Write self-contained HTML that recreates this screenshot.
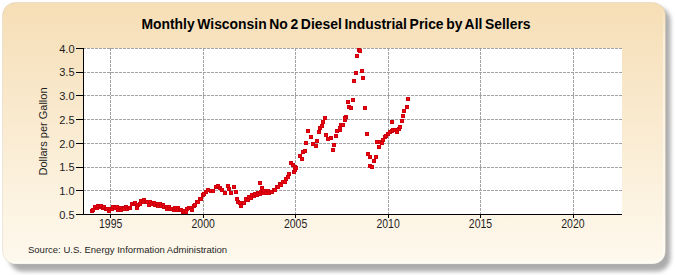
<!DOCTYPE html><html><head><meta charset="utf-8"><style>
html,body{margin:0;padding:0;background:#fff;width:675px;height:275px;overflow:hidden}
svg{display:block}
text{font-family:"Liberation Sans",sans-serif}
</style></head><body>
<svg width="675" height="275" viewBox="0 0 675 275">
<defs>
<linearGradient id="bg" x1="0" y1="0" x2="0" y2="1">
<stop offset="0" stop-color="#F6DEB6"/>
<stop offset="1" stop-color="#FEF9EE"/>
</linearGradient>
<linearGradient id="hl" gradientUnits="userSpaceOnUse" x1="0" y1="8" x2="0" y2="40"><stop offset="0" stop-color="#fff" stop-opacity="0"/><stop offset="1" stop-color="#fff" stop-opacity="0.5"/></linearGradient>
<filter id="sh" x="-5%" y="-5%" width="115%" height="120%">
<feGaussianBlur stdDeviation="2"/>
</filter>
<filter id="pb" x="-2%" y="-2%" width="104%" height="104%">
<feGaussianBlur stdDeviation="0.55"/>
</filter>
</defs>
<rect x="9" y="7" width="661.5" height="264.5" rx="14" ry="14" fill="#acacac" filter="url(#sh)"/>
<g filter="url(#pb)">
<rect x="2.5" y="2.5" width="663" height="261.5" rx="13" ry="13" fill="url(#bg)" stroke="#c8bca8" stroke-opacity="0.3" stroke-width="1"/>
<path d="M663.9 9 L663.9 253 A10.5 10.5 0 0 1 653.4 262.5 L12 262.5" fill="none" stroke="url(#hl)" stroke-width="2"/>
</g>
<rect x="84" y="48" width="538" height="166" fill="#fff"/>
<g stroke="#a2a2a2" stroke-width="1" stroke-dasharray="3 1"><line x1="84" y1="48.5" x2="622" y2="48.5" stroke-dashoffset="1"/><line x1="84" y1="72.5" x2="622" y2="72.5" stroke-dashoffset="1"/><line x1="84" y1="95.5" x2="622" y2="95.5" stroke-dashoffset="1"/><line x1="84" y1="119.5" x2="622" y2="119.5" stroke-dashoffset="1"/><line x1="84" y1="143.5" x2="622" y2="143.5" stroke-dashoffset="1"/><line x1="84" y1="167.5" x2="622" y2="167.5" stroke-dashoffset="1"/><line x1="84" y1="190.5" x2="622" y2="190.5" stroke-dashoffset="1"/><line x1="110.5" y1="48" x2="110.5" y2="214"/><line x1="203.5" y1="48" x2="203.5" y2="214"/><line x1="295.5" y1="48" x2="295.5" y2="214"/><line x1="388.5" y1="48" x2="388.5" y2="214"/><line x1="480.5" y1="48" x2="480.5" y2="214"/><line x1="573.5" y1="48" x2="573.5" y2="214"/></g>
<g stroke="#000" stroke-width="1"><line x1="83.5" y1="48" x2="83.5" y2="215"/><line x1="83" y1="214.5" x2="622" y2="214.5"/><line x1="76" y1="48.5" x2="83" y2="48.5"/><line x1="76" y1="72.5" x2="83" y2="72.5"/><line x1="76" y1="95.5" x2="83" y2="95.5"/><line x1="76" y1="119.5" x2="83" y2="119.5"/><line x1="76" y1="143.5" x2="83" y2="143.5"/><line x1="76" y1="167.5" x2="83" y2="167.5"/><line x1="76" y1="190.5" x2="83" y2="190.5"/><line x1="76" y1="214.5" x2="83" y2="214.5"/><line x1="110.5" y1="214" x2="110.5" y2="218"/><line x1="203.5" y1="214" x2="203.5" y2="218"/><line x1="295.5" y1="214" x2="295.5" y2="218"/><line x1="388.5" y1="214" x2="388.5" y2="218"/><line x1="480.5" y1="214" x2="480.5" y2="218"/><line x1="573.5" y1="214" x2="573.5" y2="218"/></g>
<g font-size="11" fill="#1e1e1e"><text transform="translate(74.6,52.6) scale(0.94,1)" font-size="11.8" text-anchor="end">4.0</text><text transform="translate(74.6,76.3) scale(0.94,1)" font-size="11.8" text-anchor="end">3.5</text><text transform="translate(74.6,100.0) scale(0.94,1)" font-size="11.8" text-anchor="end">3.0</text><text transform="translate(74.6,123.7) scale(0.94,1)" font-size="11.8" text-anchor="end">2.5</text><text transform="translate(74.6,147.5) scale(0.94,1)" font-size="11.8" text-anchor="end">2.0</text><text transform="translate(74.6,171.2) scale(0.94,1)" font-size="11.8" text-anchor="end">1.5</text><text transform="translate(74.6,194.9) scale(0.94,1)" font-size="11.8" text-anchor="end">1.0</text><text transform="translate(74.6,218.6) scale(0.94,1)" font-size="11.8" text-anchor="end">0.5</text><text transform="translate(110.7,227.6) scale(0.86,1)" font-size="12.2" text-anchor="middle">1995</text><text transform="translate(203.2,227.6) scale(0.86,1)" font-size="12.2" text-anchor="middle">2000</text><text transform="translate(295.6,227.6) scale(0.86,1)" font-size="12.2" text-anchor="middle">2005</text><text transform="translate(388.1,227.6) scale(0.86,1)" font-size="12.2" text-anchor="middle">2010</text><text transform="translate(480.5,227.6) scale(0.86,1)" font-size="12.2" text-anchor="middle">2015</text><text transform="translate(572.9,227.6) scale(0.86,1)" font-size="12.2" text-anchor="middle">2020</text></g>
<text x="336" y="29" text-anchor="middle" font-size="13.9" word-spacing="-1.2" font-weight="bold" fill="#000">Monthly Wisconsin No 2 Diesel Industrial Price by All Sellers</text>
<text transform="translate(47.2,131.5) rotate(-90)" text-anchor="middle" font-size="11" fill="#1e1e1e">Dollars per Gallon</text>
<text x="28" y="252.6" font-size="9.5" fill="#1e1e1e">Source: U.S. Energy Information Administration</text>
<g fill="#f4000f" stroke="#cc000c" stroke-width="1"><rect x="90.5" y="209.5" width="3" height="3"/><rect x="91.5" y="208.5" width="3" height="3"/><rect x="93.5" y="205.5" width="3" height="3"/><rect x="95.5" y="206.5" width="3" height="3"/><rect x="96.5" y="204.5" width="3" height="3"/><rect x="98.5" y="205.5" width="3" height="3"/><rect x="99.5" y="204.5" width="3" height="3"/><rect x="101.5" y="206.5" width="3" height="3"/><rect x="102.5" y="205.5" width="3" height="3"/><rect x="104.5" y="207.5" width="3" height="3"/><rect x="105.5" y="207.5" width="3" height="3"/><rect x="107.5" y="209.5" width="3" height="3"/><rect x="108.5" y="207.5" width="3" height="3"/><rect x="110.5" y="207.5" width="3" height="3"/><rect x="111.5" y="205.5" width="3" height="3"/><rect x="113.5" y="206.5" width="3" height="3"/><rect x="115.5" y="205.5" width="3" height="3"/><rect x="116.5" y="208.5" width="3" height="3"/><rect x="118.5" y="206.5" width="3" height="3"/><rect x="119.5" y="208.5" width="3" height="3"/><rect x="121.5" y="206.5" width="3" height="3"/><rect x="122.5" y="207.5" width="3" height="3"/><rect x="124.5" y="205.5" width="3" height="3"/><rect x="125.5" y="207.5" width="3" height="3"/><rect x="127.5" y="206.5" width="3" height="3"/><rect x="128.5" y="206.5" width="3" height="3"/><rect x="130.5" y="202.5" width="3" height="3"/><rect x="132.5" y="202.5" width="3" height="3"/><rect x="133.5" y="201.5" width="3" height="3"/><rect x="135.5" y="206.5" width="3" height="3"/><rect x="136.5" y="203.5" width="3" height="3"/><rect x="138.5" y="202.5" width="3" height="3"/><rect x="139.5" y="199.5" width="3" height="3"/><rect x="141.5" y="200.5" width="3" height="3"/><rect x="142.5" y="198.5" width="3" height="3"/><rect x="144.5" y="200.5" width="3" height="3"/><rect x="145.5" y="200.5" width="3" height="3"/><rect x="147.5" y="203.5" width="3" height="3"/><rect x="148.5" y="200.5" width="3" height="3"/><rect x="150.5" y="202.5" width="3" height="3"/><rect x="152.5" y="201.5" width="3" height="3"/><rect x="153.5" y="203.5" width="3" height="3"/><rect x="155.5" y="202.5" width="3" height="3"/><rect x="156.5" y="204.5" width="3" height="3"/><rect x="158.5" y="202.5" width="3" height="3"/><rect x="159.5" y="204.5" width="3" height="3"/><rect x="161.5" y="203.5" width="3" height="3"/><rect x="162.5" y="205.5" width="3" height="3"/><rect x="164.5" y="205.5" width="3" height="3"/><rect x="165.5" y="207.5" width="3" height="3"/><rect x="167.5" y="205.5" width="3" height="3"/><rect x="168.5" y="207.5" width="3" height="3"/><rect x="170.5" y="207.5" width="3" height="3"/><rect x="172.5" y="208.5" width="3" height="3"/><rect x="173.5" y="206.5" width="3" height="3"/><rect x="175.5" y="208.5" width="3" height="3"/><rect x="176.5" y="206.5" width="3" height="3"/><rect x="178.5" y="208.5" width="3" height="3"/><rect x="179.5" y="208.5" width="3" height="3"/><rect x="181.5" y="210.5" width="3" height="3"/><rect x="182.5" y="209.5" width="3" height="3"/><rect x="184.5" y="210.5" width="3" height="3"/><rect x="185.5" y="207.5" width="3" height="3"/><rect x="187.5" y="206.5" width="3" height="3"/><rect x="189.5" y="206.5" width="3" height="3"/><rect x="190.5" y="208.5" width="3" height="3"/><rect x="192.5" y="204.5" width="3" height="3"/><rect x="193.5" y="203.5" width="3" height="3"/><rect x="195.5" y="200.5" width="3" height="3"/><rect x="196.5" y="200.5" width="3" height="3"/><rect x="198.5" y="197.5" width="3" height="3"/><rect x="199.5" y="197.5" width="3" height="3"/><rect x="201.5" y="193.5" width="3" height="3"/><rect x="202.5" y="192.5" width="3" height="3"/><rect x="235.5" y="197.5" width="3" height="3"/><rect x="236.5" y="200.5" width="3" height="3"/><rect x="238.5" y="201.5" width="3" height="3"/><rect x="239.5" y="204.5" width="3" height="3"/><rect x="241.5" y="201.5" width="3" height="3"/><rect x="242.5" y="201.5" width="3" height="3"/><rect x="244.5" y="197.5" width="3" height="3"/><rect x="246.5" y="198.5" width="3" height="3"/><rect x="247.5" y="195.5" width="3" height="3"/><rect x="249.5" y="196.5" width="3" height="3"/><rect x="250.5" y="193.5" width="3" height="3"/><rect x="252.5" y="194.5" width="3" height="3"/><rect x="253.5" y="192.5" width="3" height="3"/><rect x="255.5" y="193.5" width="3" height="3"/><rect x="256.5" y="191.5" width="3" height="3"/><rect x="258.5" y="192.5" width="3" height="3"/><rect x="259.5" y="190.5" width="3" height="3"/><rect x="261.5" y="191.5" width="3" height="3"/><rect x="262.5" y="189.5" width="3" height="3"/><rect x="264.5" y="191.5" width="3" height="3"/><rect x="266.5" y="189.5" width="3" height="3"/><rect x="267.5" y="191.5" width="3" height="3"/><rect x="269.5" y="190.5" width="3" height="3"/><rect x="270.5" y="190.5" width="3" height="3"/><rect x="272.5" y="188.5" width="3" height="3"/><rect x="273.5" y="188.5" width="3" height="3"/><rect x="275.5" y="185.5" width="3" height="3"/><rect x="276.5" y="185.5" width="3" height="3"/><rect x="278.5" y="182.5" width="3" height="3"/><rect x="279.5" y="183.5" width="3" height="3"/><rect x="281.5" y="180.5" width="3" height="3"/><rect x="283.5" y="180.5" width="3" height="3"/><rect x="284.5" y="177.5" width="3" height="3"/><rect x="286.5" y="175.5" width="3" height="3"/><rect x="287.5" y="172.5" width="3" height="3"/><rect x="204.5" y="190.5" width="3" height="3"/><rect x="206.5" y="188.5" width="3" height="3"/><rect x="209.5" y="189.5" width="3" height="3"/><rect x="211.5" y="189.5" width="3" height="3"/><rect x="214.5" y="185.5" width="3" height="3"/><rect x="216.5" y="184.5" width="3" height="3"/><rect x="218.5" y="186.5" width="3" height="3"/><rect x="220.5" y="188.5" width="3" height="3"/><rect x="223.5" y="191.5" width="3" height="3"/><rect x="226.5" y="184.5" width="3" height="3"/><rect x="227.5" y="187.5" width="3" height="3"/><rect x="229.5" y="191.5" width="3" height="3"/><rect x="232.5" y="185.5" width="3" height="3"/><rect x="234.5" y="190.5" width="3" height="3"/><rect x="258.5" y="181.5" width="3" height="3"/><rect x="260.5" y="186.5" width="3" height="3"/><rect x="289.5" y="161.5" width="3" height="3"/><rect x="291.5" y="163.5" width="3" height="3"/><rect x="292.5" y="170.5" width="3" height="3"/><rect x="293.5" y="168.5" width="3" height="3"/><rect x="293.5" y="165.5" width="3" height="3"/><rect x="294.5" y="166.5" width="3" height="3"/><rect x="298.5" y="154.5" width="3" height="3"/><rect x="300.5" y="157.5" width="3" height="3"/><rect x="301.5" y="150.5" width="3" height="3"/><rect x="303.5" y="149.5" width="3" height="3"/><rect x="304.5" y="141.5" width="3" height="3"/><rect x="306.5" y="129.5" width="3" height="3"/><rect x="309.5" y="135.5" width="3" height="3"/><rect x="311.5" y="142.5" width="3" height="3"/><rect x="314.5" y="144.5" width="3" height="3"/><rect x="315.5" y="139.5" width="3" height="3"/><rect x="317.5" y="130.5" width="3" height="3"/><rect x="318.5" y="126.5" width="3" height="3"/><rect x="320.5" y="124.5" width="3" height="3"/><rect x="321.5" y="120.5" width="3" height="3"/><rect x="323.5" y="116.5" width="3" height="3"/><rect x="324.5" y="133.5" width="3" height="3"/><rect x="326.5" y="137.5" width="3" height="3"/><rect x="329.5" y="136.5" width="3" height="3"/><rect x="332.5" y="143.5" width="3" height="3"/><rect x="331.5" y="148.5" width="3" height="3"/><rect x="334.5" y="134.5" width="3" height="3"/><rect x="335.5" y="129.5" width="3" height="3"/><rect x="338.5" y="128.5" width="3" height="3"/><rect x="338.5" y="126.5" width="3" height="3"/><rect x="339.5" y="123.5" width="3" height="3"/><rect x="341.5" y="123.5" width="3" height="3"/><rect x="343.5" y="118.5" width="3" height="3"/><rect x="344.5" y="115.5" width="3" height="3"/><rect x="343.5" y="116.5" width="3" height="3"/><rect x="346.5" y="100.5" width="3" height="3"/><rect x="351.5" y="98.5" width="3" height="3"/><rect x="347.5" y="105.5" width="3" height="3"/><rect x="349.5" y="106.5" width="3" height="3"/><rect x="352.5" y="79.5" width="3" height="3"/><rect x="354.5" y="71.5" width="3" height="3"/><rect x="355.5" y="54.5" width="3" height="3"/><rect x="357.5" y="48.5" width="3" height="3"/><rect x="358.5" y="49.5" width="3" height="3"/><rect x="360.5" y="69.5" width="3" height="3"/><rect x="361.5" y="76.5" width="3" height="3"/><rect x="363.5" y="106.5" width="3" height="3"/><rect x="365.5" y="132.5" width="3" height="3"/><rect x="366.5" y="152.5" width="3" height="3"/><rect x="368.5" y="155.5" width="3" height="3"/><rect x="368.5" y="164.5" width="3" height="3"/><rect x="370.5" y="165.5" width="3" height="3"/><rect x="372.5" y="159.5" width="3" height="3"/><rect x="374.5" y="155.5" width="3" height="3"/><rect x="375.5" y="140.5" width="3" height="3"/><rect x="377.5" y="145.5" width="3" height="3"/><rect x="378.5" y="140.5" width="3" height="3"/><rect x="380.5" y="141.5" width="3" height="3"/><rect x="381.5" y="138.5" width="3" height="3"/><rect x="383.5" y="135.5" width="3" height="3"/><rect x="384.5" y="134.5" width="3" height="3"/><rect x="386.5" y="132.5" width="3" height="3"/><rect x="388.5" y="130.5" width="3" height="3"/><rect x="390.5" y="129.5" width="3" height="3"/><rect x="390.5" y="120.5" width="3" height="3"/><rect x="391.5" y="128.5" width="3" height="3"/><rect x="393.5" y="128.5" width="3" height="3"/><rect x="395.5" y="130.5" width="3" height="3"/><rect x="397.5" y="127.5" width="3" height="3"/><rect x="398.5" y="125.5" width="3" height="3"/><rect x="400.5" y="119.5" width="3" height="3"/><rect x="401.5" y="114.5" width="3" height="3"/><rect x="402.5" y="109.5" width="3" height="3"/><rect x="405.5" y="105.5" width="3" height="3"/><rect x="406.5" y="97.5" width="3" height="3"/></g>
</svg></body></html>
